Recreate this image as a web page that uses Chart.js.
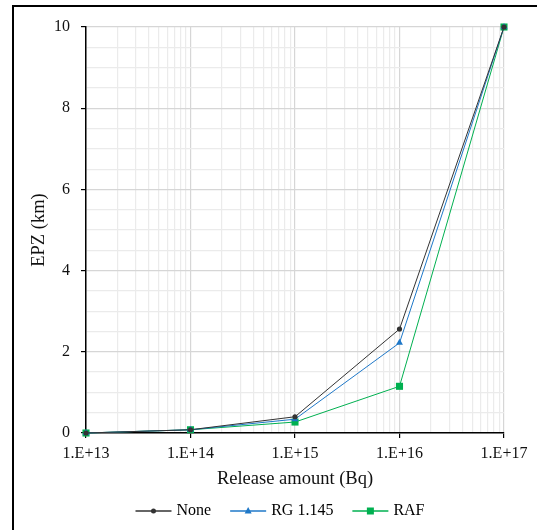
<!DOCTYPE html>
<html>
<head>
<meta charset="utf-8">
<script src="https://cdn.jsdelivr.net/npm/chart.js@4.4.0/dist/chart.umd.min.js"></script>
<style>
  body { margin: 0; background: #fff; }
  #wrap { position: relative; width: 537px; height: 530px; overflow: hidden; }
  #frame { position: absolute; left: 12px; top: 5px; width: 700px; height: 700px;
           border-left: 2px solid #000; border-top: 2px solid #000; }
  canvas { position: absolute; left: 0; top: 0; }
</style>
</head>
<body>
<div id="wrap">
  <div id="frame"></div>
  <canvas id="myChart" width="537" height="530"></canvas>
</div>
<script>
// release amounts (Bq) and EPZ (km)
var releaseAmounts = [1e13, 1e14, 1e15, 1e16, 1e17];
var epzNone = [0, 0.08, 0.40, 2.56, 10];
var epzRG = [0, 0.08, 0.34, 2.22, 10];
var epzRAF = [0, 0.08, 0.27, 1.15, 10];
var seriesNames = ['None', 'RG 1.145', 'RAF'];
var yTickLabels = [0, 2, 4, 6, 8, 10];

var serif = "'Liberation Serif', 'Times New Roman', serif";

function isDecade(v) {
    var e = Math.log10(v);
    return Math.abs(e - Math.round(e)) < 1e-9;
}

// legend drawn as line + marker like the original
var lineLegend = {
    id: 'lineLegend',
    afterDraw: function(chart) {
        var ctx = chart.ctx;
        ctx.save();
        ctx.font = '16px ' + serif;
        ctx.textBaseline = 'middle';
        ctx.textAlign = 'left';
        var sets = chart.data.datasets;
        var total = 0;
        for (var i = 0; i < sets.length; i++) {
            total += 36 + 5 + ctx.measureText(sets[i].label).width;
            if (i > 0) total += 19;
        }
        var x = 280 - total / 2;
        var y = 511;
        for (var i = 0; i < sets.length; i++) {
            var ds = sets[i];
            ctx.strokeStyle = ds.borderColor;
            ctx.lineWidth = 1.3;
            ctx.beginPath();
            ctx.moveTo(x, y);
            ctx.lineTo(x + 36, y);
            ctx.stroke();
            var mx = x + 18;
            ctx.fillStyle = ds.pointBackgroundColor;
            ctx.beginPath();
            if (ds.pointStyle === 'circle') {
                ctx.arc(mx, y, 2.5, 0, Math.PI * 2);
            } else if (ds.pointStyle === 'triangle') {
                ctx.moveTo(mx, y - 4);
                ctx.lineTo(mx + 3.5, y + 2.5);
                ctx.lineTo(mx - 3.5, y + 2.5);
                ctx.closePath();
            } else {
                ctx.rect(mx - 3.5, y - 3.5, 7, 7);
            }
            ctx.fill();
            ctx.fillStyle = '#000';
            ctx.fillText(ds.label, x + 41, y);
            x += 41 + ctx.measureText(ds.label).width + 19;
        }
        ctx.restore();
    }
};

function makeSet(name, values, color, style, radius) {
    return {
        label: name,
        data: releaseAmounts.map(function(r, i) { return {x: r, y: values[i]}; }),
        borderColor: color,
        backgroundColor: color,
        pointBackgroundColor: color,
        pointBorderColor: color,
        pointBorderWidth: 0,
        pointStyle: style,
        pointRadius: radius,
        borderWidth: 1,
        tension: 0,
        clip: false
    };
}

const ctx = document.getElementById('myChart').getContext('2d');
const myChart = new Chart(ctx, {
    type: 'line',
    data: {
        datasets: [
            makeSet(seriesNames[0], epzNone, '#333333', 'circle', 2.6),
            makeSet(seriesNames[1], epzRG, '#1f78c8', 'triangle', 4),
            makeSet(seriesNames[2], epzRAF, '#00b050', 'rect', 5)
        ]
    },
    plugins: [lineLegend],
    options: {
        responsive: false,
        animation: false,
        layout: { padding: { left: 0, top: 27, right: 33, bottom: 40 } },
        plugins: {
            legend: { display: false },
            tooltip: { enabled: false }
        },
        scales: {
            x: {
                type: 'logarithmic',
                min: 1e13,
                max: 1e17,
                afterBuildTicks: function(scale) {
                    var t = [];
                    for (var e = 13; e <= 17; e++) {
                        for (var m = 1; m <= 9; m++) {
                            if (e === 17 && m > 1) break;
                            t.push({ value: m * Math.pow(10, e) });
                        }
                    }
                    scale.ticks = t;
                },
                afterFit: function(scale) { scale.height = 57; },
                ticks: {
                    autoSkip: false,
                    maxRotation: 0,
                    padding: 6,
                    color: '#111',
                    font: { family: serif, size: 16 },
                    callback: function(v) {
                        if (!isDecade(v)) return '';
                        return '1.E+' + Math.round(Math.log10(v));
                    }
                },
                grid: {
                    color: function(c) { return c.tick && isDecade(c.tick.value) ? '#d6d6d6' : '#ebebeb'; },
                    tickColor: function(c) { return c.tick && isDecade(c.tick.value) ? '#000' : 'rgba(0,0,0,0)'; },
                    tickLength: 5,
                    lineWidth: 1.2
                },
                border: { color: '#000', width: 1.5 },
                title: {
                    display: true,
                    text: 'Release amount (Bq)',
                    color: '#111',
                    font: { family: serif, size: 18.5 },
                    padding: { top: 0, bottom: 0 }
                }
            },
            y: {
                min: 0,
                max: 10,
                afterFit: function(scale) { scale.width = 86; },
                ticks: {
                    stepSize: 0.5,
                    autoSkip: false,
                    padding: 11,
                    color: '#111',
                    font: { family: serif, size: 16 },
                    callback: function(v) {
                        return yTickLabels.indexOf(v) >= 0 ? String(v) : '';
                    }
                },
                grid: {
                    color: function(c) { return c.tick && c.tick.value % 2 === 0 ? '#d6d6d6' : '#ebebeb'; },
                    tickColor: function(c) { return c.tick && c.tick.value % 2 === 0 ? '#000' : 'rgba(0,0,0,0)'; },
                    tickLength: 5,
                    lineWidth: 1.2
                },
                border: { color: '#000', width: 1.5 },
                title: {
                    display: true,
                    text: 'EPZ (km)',
                    color: '#111',
                    font: { family: serif, size: 18.5 },
                    padding: { top: 28, bottom: 0 }
                }
            }
        }
    }
});
</script>
</body>
</html>
